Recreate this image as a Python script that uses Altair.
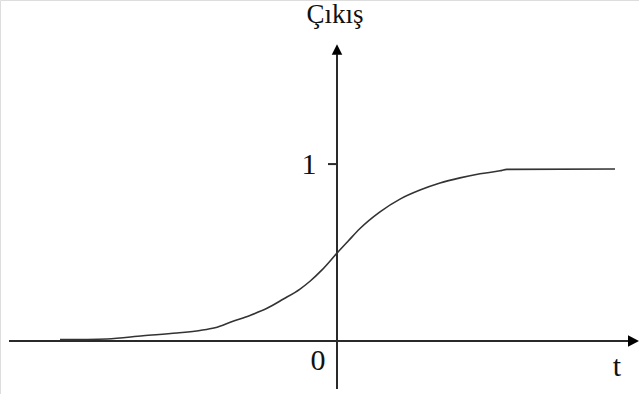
import altair as alt
import pandas as pd

# S-shaped response curve: time t against output (Çıkış)
curve_t = [-5.54, -4.60, -3.88, -3.20, -2.74, -2.44, -2.08, -1.74, -1.40, -1.08,
           -0.74, -0.54, -0.30, 0.00, 0.22, 0.46, 0.86, 1.26, 1.66, 2.06,
           2.46, 2.86, 3.26, 3.40, 5.56]
curve_y = [0.008, 0.012, 0.030, 0.046, 0.060, 0.075, 0.112, 0.145, 0.185, 0.236,
           0.294, 0.338, 0.402, 0.497, 0.564, 0.636, 0.730, 0.802, 0.853, 0.893,
           0.922, 0.945, 0.962, 0.970, 0.972]

y_title = "Çıkış"
x_title = "t"
tick_labels = ["0", "1"]

W, H = 639, 394
xs = alt.Scale(domain=[-6.74, 6.04], nice=False, zero=False)
ys = alt.Scale(domain=[-0.299, 1.927], nice=False, zero=False)
AX = "#2a2a2a"

def X(field):
    return alt.X(field, type="quantitative", scale=xs, axis=None)

def Y(field):
    return alt.Y(field, type="quantitative", scale=ys, axis=None)

curve = alt.Chart(pd.DataFrame({"t": curve_t, "y": curve_y})).mark_line(
    color="#333333", strokeWidth=1.6, interpolate="monotone"
).encode(x=X("t"), y=Y("y"))

# horizontal (t) axis line
x_axis = alt.Chart(pd.DataFrame({"a": [-6.56], "b": [5.83], "y": [0.0]})).mark_rule(
    color=AX, strokeWidth=2
).encode(x=X("a"), x2="b", y=Y("y"))

# vertical (output) axis line
y_axis = alt.Chart(pd.DataFrame({"x": [0.0], "a": [-0.271], "b": [1.62]})).mark_rule(
    color=AX, strokeWidth=2
).encode(x=X("x"), y=Y("a"), y2="b")

# tick mark at output level 1
tick = alt.Chart(pd.DataFrame({"a": [-0.18], "b": [0.0], "y": [1.0]})).mark_rule(
    color=AX, strokeWidth=2
).encode(x=X("a"), x2="b", y=Y("y"))

# arrow heads
arrow_right = alt.Chart(pd.DataFrame({"x": [5.93], "y": [0.0]})).mark_point(
    shape="M1,0L-1,-1.05L-1,1.05Z", filled=True, color="#000000", size=121, opacity=1
).encode(x=X("x"), y=Y("y"))

arrow_up = alt.Chart(pd.DataFrame({"x": [0.0], "y": [1.647]})).mark_point(
    shape="M0,-1L-1,1L1,1Z", filled=True, color="#000000", size=110, opacity=1
).encode(x=X("x"), y=Y("y"))

FONT = "Liberation Serif"

labels = pd.DataFrame({
    "x": [-0.38, -0.56],
    "y": [-0.164, 0.944],
    "s": tick_labels,
})
tick_text = alt.Chart(labels).mark_text(
    font=FONT, fontSize=30, color="#111111", align="center", baseline="alphabetic"
).encode(x=X("x"), y=Y("y"), text="s:N")

title_text = alt.Chart(pd.DataFrame({"x": [-0.04], "y": [1.797], "s": [y_title]})).mark_text(
    font=FONT, fontSize=27, color="#111111", align="center", baseline="alphabetic"
).encode(x=X("x"), y=Y("y"), text="s:N")

t_text = alt.Chart(pd.DataFrame({"x": [5.6], "y": [-0.198], "s": [x_title]})).mark_text(
    font=FONT, fontSize=30, color="#111111", align="center", baseline="alphabetic"
).encode(x=X("x"), y=Y("y"), text="s:N")

chart = alt.layer(
    x_axis, y_axis, tick, curve, arrow_right, arrow_up, tick_text, title_text, t_text
).properties(
    width=W, height=H, padding=0, autosize=alt.AutoSizeParams(type="none")
).configure_view(stroke=None).configure(background="white")

chart.save("out.html", embed_options={"renderer": "svg", "actions": False})
